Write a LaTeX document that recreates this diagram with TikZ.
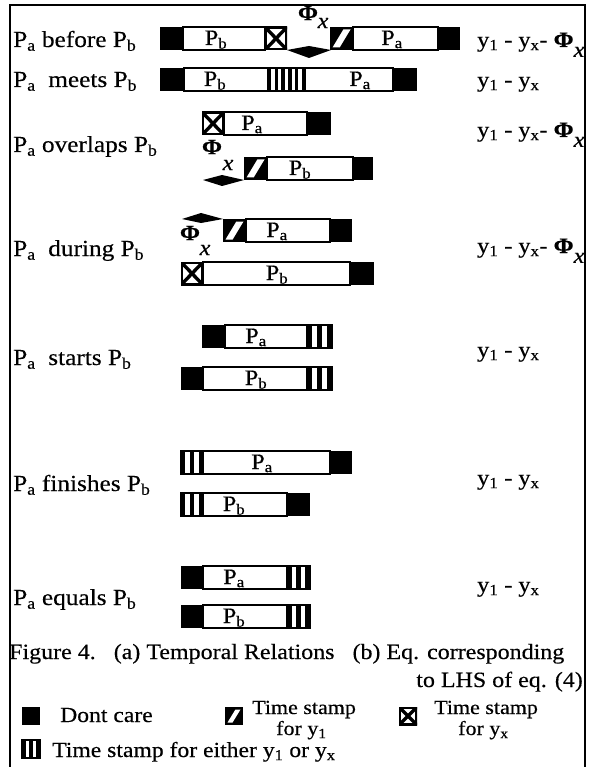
\documentclass[tikz,border=0pt]{standalone}
\usepackage{fontspec}
\setmainfont[FakeStretch=1.1,FakeBold=0.35]{Liberation Serif}
% args: left x, right x, top y, bottom y
\newcommand\SegB[4]{\fill[black] (#1,#3) rectangle (#2,#4);}
\newcommand\SegW[4]{\filldraw[fill=white,draw=black,line width=2pt] (#1,#3) rectangle (#2,#4);}
\newcommand\SegH[4]{\fill[black] (#1,#3) rectangle (#2,#4);
  \fill[white] ({#1+2.5},{#4-2.5}) -- ({#1+0.42*(#2-#1)},{#4-2.5}) -- ({#2-2.5},{#3+2.5}) -- ({#2-0.42*(#2-#1)},{#3+2.5}) -- cycle;}
\newcommand\SegX[4]{\begin{scope}\clip (#1,#3) rectangle (#2,#4);
  \fill[white] (#1,#3) rectangle (#2,#4);
  \draw[line width=3.4pt] (#1,#3) -- (#2,#4) (#1,#4) -- (#2,#3);
  \draw[line width=4.4pt] (#1,#3) rectangle (#2,#4);\end{scope}}
\newcommand\SegS[5]{\filldraw[fill=white,draw=black,line width=2pt] (#1,#3) rectangle (#2,#4);
  \foreach \i in {1,...,#5}{\fill[black] ({#1+2*(\i-1)*(#2-#1)/(2*#5-1)},#3) rectangle ({#1+(2*\i-1)*(#2-#1)/(2*#5-1)},#4);}}
% left x, centre x, right x, axis y, up, down
\newcommand\Lz[6]{\fill[black] (#1,#4) -- (#2,{#4-#5}) -- (#3,#4) -- (#2,{#4+#6}) -- cycle;}
\begin{document}
\begin{tikzpicture}[x=1pt,y=-1pt,
  lab/.style={anchor=base west,inner sep=0pt,font=\fontsize{23}{25}\selectfont},
  eqn/.style={anchor=base west,inner sep=0pt,font=\fontsize{22}{24}\selectfont},
  inbar/.style={anchor=base,inner sep=0pt,font=\fontsize{22}{24}\selectfont},
  phi/.style={anchor=center,inner sep=0pt,font=\fontsize{22}{24}\selectfont\bfseries},
  ix/.style={anchor=center,inner sep=0pt,font=\fontsize{22}{24}\selectfont\itshape},
  captext/.style={anchor=base west,inner sep=0pt,font=\fontsize{21.8}{24}\selectfont},
  leg/.style={anchor=base west,inner sep=0pt,font=\fontsize{21.5}{23}\selectfont},
  legs/.style={anchor=base west,inner sep=0pt,font=\fontsize{20}{22}\selectfont}]
\useasboundingbox (0,0) rectangle (589,767);
\fill[white] (0,0) rectangle (589,767);
\draw[line width=1.8pt] (10,767) -- (10,5) -- (585,5) -- (585,767);
\newcommand\PHx{\textbf{Φ}\raisebox{-0.45em}{\itshape x}}
% labels
\node[lab] (l1) at (13,47) {P\textsubscript{a} before P\textsubscript{b}};
\node[lab] (l2) at (13,87) {P\textsubscript{a}\ \ meets P\textsubscript{b}};
\node[lab] (l3) at (13,152) {P\textsubscript{a} overlaps P\textsubscript{b}};
\node[lab] (l4) at (13,256) {P\textsubscript{a}\ \ during P\textsubscript{b}};
\node[lab] (l5) at (13,365) {P\textsubscript{a}\ \ starts P\textsubscript{b}};
\node[lab] (l6) at (13,491) {P\textsubscript{a} finishes P\textsubscript{b}};
\node[lab] (l7) at (13,605) {P\textsubscript{a}\ equals P\textsubscript{b}};
% equations
\node[eqn] (e1) at (477,47) {y\textsubscript{1} - y\textsubscript{x}- \PHx};
\node[eqn] (e2) at (477,87) {y\textsubscript{1} - y\textsubscript{x}};
\node[eqn] (e3) at (477,137) {y\textsubscript{1} - y\textsubscript{x}- \PHx};
\node[eqn] (e4) at (477,253) {y\textsubscript{1} - y\textsubscript{x}- \PHx};
\node[eqn] (e5) at (477,357) {y\textsubscript{1} - y\textsubscript{x}};
\node[eqn] (e6) at (477,485) {y\textsubscript{1} - y\textsubscript{x}};
\node[eqn] (e7) at (477,592) {y\textsubscript{1} - y\textsubscript{x}};
% row 1 before
\SegB{160}{183}{27}{50}
\SegW{183}{265}{27}{50}
\SegX{265}{287}{27}{50}
\SegH{330}{353}{27}{50}
\SegW{353}{438}{27}{50}
\SegB{438}{460}{27}{50}
\Lz{287}{309}{331}{50}{4}{8}
\node[inbar] (t1b) at (216,45) {P\textsubscript{b}};
\node[inbar] (t1a) at (392,45) {P\textsubscript{a}};
\node[phi] (f1) at (308,13) {Φ};
\node[ix] (x1) at (323,23) {x};
% row 2 meets
\SegB{160}{184}{68}{91}
\SegW{184}{268}{68}{91}
\SegS{268}{305}{68}{91}{6}
\SegW{305}{393}{68}{91}
\SegB{393}{417}{68}{91}
\node[inbar] (t2b) at (215,86) {P\textsubscript{b}};
\node[inbar] (t2a) at (360,86) {P\textsubscript{a}};
% row 3 overlaps
\SegX{202}{224}{112}{135}
\SegW{224}{307}{112}{135}
\SegB{307}{331}{112}{135}
\node[inbar] (t3a) at (252,130) {P\textsubscript{a}};
\SegH{244}{267}{157}{180}
\SegW{267}{353}{157}{180}
\SegB{353}{373}{157}{180}
\node[inbar] (t3b) at (300,175) {P\textsubscript{b}};
\Lz{203}{222}{244}{180}{5}{6}
\node[phi] (f3) at (212,147) {Φ};
\node[ix] (x3) at (228,165) {x};
% row 4 during
\SegH{223}{246}{219}{242}
\SegW{246}{330}{219}{242}
\SegB{330}{352}{219}{242}
\node[inbar] (t4a) at (277,237) {P\textsubscript{a}};
\Lz{182}{201}{223}{219}{6}{4}
\node[phi] (f4) at (190,233) {Φ};
\node[ix] (x4) at (205,250) {x};
\SegX{181}{203}{262}{285}
\SegW{203}{350}{262}{285}
\SegB{350}{374}{262}{285}
\node[inbar] (t4b) at (277,280) {P\textsubscript{b}};
% row 5 starts
\SegB{202}{225}{325}{348}
\SegW{225}{307}{325}{348}
\SegS{307}{332}{325}{348}{3}
\node[inbar] (t5a) at (256,343) {P\textsubscript{a}};
\SegB{181}{203}{367}{390}
\SegW{203}{307}{367}{390}
\SegS{307}{332}{367}{390}{3}
\node[inbar] (t5b) at (256,385) {P\textsubscript{b}};
% row 6 finishes
\SegS{181}{203}{451}{474}{3}
\SegW{203}{330}{451}{474}
\SegB{330}{352}{451}{474}
\node[inbar] (t6a) at (262,469) {P\textsubscript{a}};
\SegS{181}{203}{493}{516}{3}
\SegW{203}{287}{493}{516}
\SegB{287}{310}{493}{516}
\node[inbar] (t6b) at (234,511) {P\textsubscript{b}};
% row 7 equals
\SegB{181}{203}{566}{589}
\SegW{203}{287}{566}{589}
\SegS{287}{310}{566}{589}{3}
\node[inbar] (t7a) at (234,584) {P\textsubscript{a}};
\SegB{181}{203}{605}{628}
\SegW{203}{287}{605}{628}
\SegS{287}{310}{605}{628}{3}
\node[inbar] (t7b) at (234,623) {P\textsubscript{b}};
% caption
\node[captext] (c1) at (9,659) {Figure 4.\ \ \ (a) Temporal Relations\ \ \ (b) Eq. corresponding};
\node[captext,anchor=base east] (c2) at (583,687) {to LHS of eq. (4)};
% legend
\SegB{22}{40}{707}{725}
\node[leg] (g1) at (60,722) {Dont care};
\SegH{225}{243}{707}{725}
\node[legs] (g2) at (252,714) {Time stamp};
\node[legs] (g2b) at (276,735) {for y\textsubscript{1}};
\SegX{399}{417}{707}{725}
\node[legs] (g3) at (434,714) {Time stamp};
\node[legs] (g3b) at (458,735) {for y\textsubscript{x}};
\SegS{22}{40}{740}{758}{3}
\node[leg] (g4) at (52,757) {Time stamp for either y\textsubscript{1} or y\textsubscript{x}};
\end{tikzpicture}
\end{document}
